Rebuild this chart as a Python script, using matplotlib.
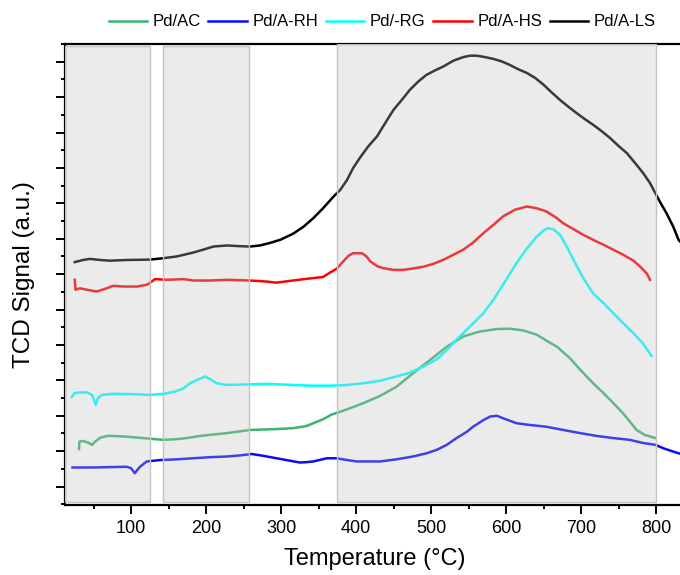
import numpy as np
import matplotlib.pyplot as plt
from matplotlib.ticker import MultipleLocator, NullFormatter

plt.rcParams['font.family'] = ['Liberation Sans', 'DejaVu Sans']

# values (temperature in C, signal in a.u. = tick units)
T_ls = [25, 36, 45, 59, 72, 94, 125, 143, 161, 183, 196, 210, 228, 245, 259, 272,
        285, 299, 316, 330, 343, 356, 370, 379, 388, 396, 405, 416, 428, 439, 450,
        461, 472, 483, 494, 505, 516, 530, 543, 552, 561, 572, 583, 594, 605, 616,
        628, 639, 650, 661, 672, 683, 694, 705, 716, 728, 739, 750, 761, 772, 783,
        792, 805, 814, 823, 830, 839]
S_ls = [6.34, 6.40, 6.43, 6.40, 6.38, 6.40, 6.41, 6.45, 6.50, 6.61, 6.69, 6.78, 6.81,
        6.79, 6.78, 6.81, 6.88, 6.97, 7.14, 7.34, 7.58, 7.86, 8.19, 8.38, 8.66, 8.99,
        9.28, 9.60, 9.89, 10.27, 10.64, 10.92, 11.21, 11.44, 11.63, 11.75, 11.86,
        12.03, 12.13, 12.17, 12.17, 12.13, 12.08, 12.01, 11.91, 11.79, 11.68, 11.54,
        11.35, 11.13, 10.92, 10.73, 10.55, 10.38, 10.22, 10.03, 9.84, 9.62, 9.42,
        9.14, 8.85, 8.57, 8.05, 7.72, 7.34, 6.97, 6.77]

T_hs = [25, 26, 32, 41, 54, 65, 76, 90, 108, 121, 125, 132, 148, 170, 183, 205, 228,
        259, 281, 294, 316, 339, 356, 365, 374, 383, 390, 396, 408, 414, 419, 428,
        436, 450, 463, 476, 490, 503, 516, 530, 543, 556, 570, 583, 596, 612, 628,
        641, 654, 668, 676, 690, 703, 716, 730, 743, 756, 770, 779, 788, 792]
S_hs = [5.84, 5.56, 5.60, 5.56, 5.51, 5.58, 5.67, 5.65, 5.65, 5.70, 5.75, 5.86, 5.84,
        5.86, 5.82, 5.82, 5.84, 5.82, 5.79, 5.76, 5.82, 5.88, 5.92, 6.04, 6.15, 6.36,
        6.52, 6.59, 6.59, 6.50, 6.36, 6.23, 6.17, 6.12, 6.12, 6.16, 6.21, 6.29, 6.40,
        6.55, 6.69, 6.89, 7.16, 7.39, 7.63, 7.82, 7.91, 7.86, 7.77, 7.58, 7.44, 7.27,
        7.11, 6.97, 6.83, 6.69, 6.55, 6.38, 6.21, 6.01, 5.84]

T_rg = [21, 25, 32, 41, 48, 53, 56, 61, 76, 103, 125, 143, 156, 168, 179, 190, 199,
        205, 214, 228, 259, 285, 316, 343, 365, 388, 410, 432, 454, 472, 490, 508,
        521, 536, 552, 570, 583, 596, 614, 628, 641, 650, 656, 663, 672, 681, 690,
        703, 716, 730, 743, 756, 770, 783, 794]
S_rg = [2.53, 2.64, 2.66, 2.66, 2.59, 2.31, 2.50, 2.59, 2.62, 2.61, 2.59, 2.62, 2.67,
        2.75, 2.92, 3.03, 3.11, 3.04, 2.92, 2.87, 2.89, 2.90, 2.87, 2.85, 2.85, 2.87,
        2.92, 2.99, 3.11, 3.22, 3.39, 3.60, 3.86, 4.19, 4.52, 4.90, 5.27, 5.70, 6.31,
        6.73, 7.06, 7.23, 7.30, 7.27, 7.11, 6.78, 6.40, 5.89, 5.46, 5.18, 4.90, 4.62,
        4.33, 4.03, 3.69]

T_ac = [30.7, 31.1, 36, 43, 48, 52, 59, 68, 76, 94, 116, 143, 161, 174, 192, 205,
        228, 259, 290, 316, 334, 343, 356, 367, 388, 410, 432, 454, 476, 499, 521,
        543, 565, 588, 605, 623, 641, 654, 668, 685, 699, 716, 730, 743, 756, 765,
        774, 785, 799]
S_ac = [1.06, 1.27, 1.29, 1.24, 1.18, 1.27, 1.38, 1.43, 1.43, 1.41, 1.37, 1.32, 1.34,
        1.37, 1.43, 1.46, 1.51, 1.60, 1.62, 1.65, 1.71, 1.79, 1.90, 2.03, 2.18, 2.36,
        2.56, 2.82, 3.20, 3.58, 3.95, 4.24, 4.38, 4.45, 4.46, 4.41, 4.29, 4.12, 3.95,
        3.63, 3.30, 2.92, 2.64, 2.36, 2.07, 1.84, 1.60, 1.46, 1.37]

T_rh = [22, 50, 72, 94, 100, 105, 112, 121, 139, 161, 183, 205, 228, 245, 261, 276,
        294, 312, 325, 334, 343, 361, 374, 388, 401, 432, 454, 476, 494, 508, 521,
        534, 548, 556, 570, 579, 588, 596, 614, 632, 654, 676, 699, 721, 743, 765,
        783, 799, 810, 830, 839]
S_rh = [0.54, 0.54, 0.55, 0.56, 0.52, 0.38, 0.56, 0.71, 0.75, 0.77, 0.80, 0.83, 0.85,
        0.88, 0.92, 0.87, 0.80, 0.73, 0.68, 0.69, 0.71, 0.80, 0.80, 0.75, 0.71, 0.71,
        0.77, 0.85, 0.94, 1.04, 1.18, 1.37, 1.55, 1.69, 1.88, 1.98, 2.00, 1.93, 1.79,
        1.74, 1.69, 1.60, 1.51, 1.43, 1.37, 1.32, 1.23, 1.18, 1.08, 0.94, 0.90]

spans = [(12, 125), (143, 257), (375, 800)]

fig = plt.figure(figsize=(6.8, 5.75), dpi=100)
ax = fig.add_axes([65 / 680, 70 / 575, 619 / 680, 461 / 575])

ax.plot(T_ac, S_ac, color='#3cb371', lw=1.8, label='Pd/AC')
ax.plot(T_rh, S_rh, color='#0a0aff', lw=1.8, label='Pd/A-RH')
ax.plot(T_rg, S_rg, color='#00ffff', lw=1.8, label='Pd/-RG')
ax.plot(T_hs, S_hs, color='#ff0000', lw=1.8, label='Pd/A-HS')
ax.plot(T_ls, S_ls, color='#000000', lw=1.8, label='Pd/A-LS')

# shaded regions (drawn over the curves, semi-transparent)
for i, (a, b) in enumerate(spans):
    top = 1.0 if i == 2 else 0.9957
    ax.axvspan(a, b, ymin=0.0065, ymax=top, facecolor=(0.745, 0.745, 0.745, 0.3),
               edgecolor='#c4c4c4', lw=1.0, zorder=3)

ax.set_xlim(12, 837.3)
ax.set_ylim(-0.52, 12.5)

ax.xaxis.set_major_locator(MultipleLocator(100))
ax.xaxis.set_minor_locator(MultipleLocator(50))
ax.yaxis.set_major_locator(MultipleLocator(1))
ax.yaxis.set_minor_locator(MultipleLocator(0.5))
ax.yaxis.set_major_formatter(NullFormatter())

ax.tick_params(which='major', direction='out', length=6.5, width=1.4, labelsize=13, pad=4)
ax.tick_params(which='minor', direction='out', length=3.2, width=1.4)
ax.tick_params(axis='x', which='both', top=False)
ax.tick_params(axis='y', which='both', right=False)

for s in ['left', 'bottom', 'top']:
    ax.spines[s].set_linewidth(1.6)
ax.spines['right'].set_visible(False)

ax.set_xlabel('Temperature (°C)', fontsize=17, labelpad=8)
ax.set_ylabel('TCD Signal (a.u.)', fontsize=17.5, labelpad=11)

fig.legend(loc='center', bbox_to_anchor=(0.562, 0.962), ncol=5, frameon=False,
           fontsize=12, handlelength=2.3, handletextpad=0.35, columnspacing=0.45,
           borderpad=0)

fig.savefig('out.png', dpi=100)
